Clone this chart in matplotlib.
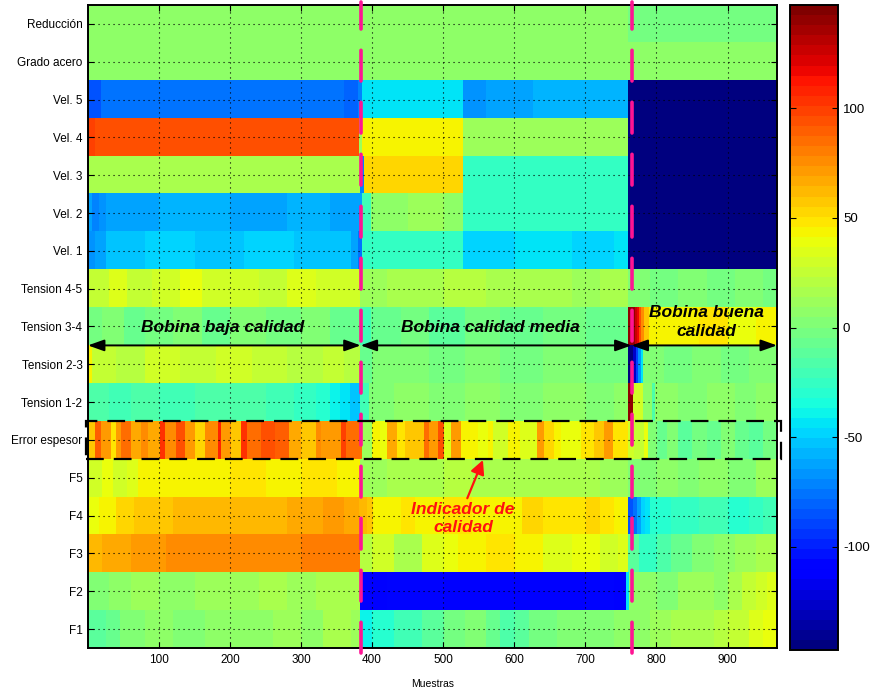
import matplotlib
matplotlib.use("Agg")
import matplotlib.pyplot as plt
import numpy as np
from matplotlib.patches import FancyArrowPatch, Rectangle

plt.rcParams['font.family'] = ['Liberation Sans', 'DejaVu Sans']
plt.rcParams['axes.unicode_minus'] = False

N = 969  # samples

row_labels = ['F1', 'F2', 'F3', 'F4', 'F5', 'Error espesor', 'Tension 1-2',
              'Tension 2-3', 'Tension 3-4', 'Tension 4-5', 'Vel. 1', 'Vel. 2',
              'Vel. 3', 'Vel. 4', 'Vel. 5', 'Grado acero', 'Reducción']

# piecewise segments per row: (start sample, value)
f1 = [(0, -10), (25, -5), (45, 2), (80, 5), (120, 3), (165, 8), (210, 6), (260, 10),
      (300, 8), (330, 14), (370, 12),
      (382, -38), (400, -30), (430, -22), (470, -10), (500, -2), (530, 0), (560, -8),
      (580, -18), (600, -12), (620, -3), (660, 0), (700, 3), (740, 5),
      (760, 8), (790, 12), (820, 16), (850, 14), (880, 22), (900, 26), (930, 34), (950, 38)]
f2 = [(0, 4), (30, 6), (60, 10), (100, 8), (150, 12), (200, 10), (240, 14), (280, 12),
      (320, 17), (360, 18),
      (382, -112), (420, -110), (500, -113), (560, -111), (640, -113), (700, -110),
      (740, -112), (757, -44),
      (761, 5), (780, 8), (800, 3), (830, 10), (860, 12), (880, 6), (900, 18), (920, 24),
      (940, 30), (955, 34)]
f3 = [(0, 62), (20, 68), (60, 72), (110, 76), (180, 74), (240, 78), (300, 80), (340, 79),
      (382, 22), (400, 28), (430, 18), (470, 34), (500, 40), (520, 42), (560, 46),
      (600, 44), (640, 36), (680, 38), (720, 30), (745, 34),
      (760, -12), (775, -26), (800, -18), (820, -6), (850, 2), (880, 6), (910, 12), (940, 16)]
f4 = [(0, 38), (15, 44), (40, 52), (65, 58), (120, 62), (200, 60), (230, 64), (280, 68),
      (330, 70), (360, 66), (381, 62), (392, 58),
      (401, 45), (440, 50), (460, 44), (500, 48), (540, 44), (610, 54), (640, 47),
      (700, 55), (720, 47), (740, 44),
      (760, -86), (766, -78), (772, -62), (778, -50), (783, -43), (790, -30), (820, -26),
      (860, -22), (900, -28), (930, -24), (950, -20)]
f5 = [(0, 32), (20, 38), (35, 30), (55, 36), (70, 42), (100, 45), (150, 44), (200, 46),
      (250, 44), (300, 46), (350, 44),
      (382, 12), (420, 16), (460, 14), (500, 20), (540, 15), (580, 18), (620, 14),
      (680, 16), (720, 12),
      (760, 4), (800, 8), (830, 2), (860, 6), (900, 4), (940, 10)]
error_esp = [(0, 58), (10, 90), (18, 70), (32, 50), (39, 70), (46, 85), (61, 65), (75, 78),
             (85, 65), (101, 105), (108, 75), (124, 92), (137, 70), (151, 52), (165, 78),
             (183, 110), (187, 70), (201, 58), (215, 105), (223, 85), (244, 95), (263, 90),
             (282, 65), (300, 58), (320, 78), (328, 70), (356, 100), (363, 85),
             (386, 12), (399, 45), (411, 40), (421, 65), (435, 47), (446, 58), (472, 85),
             (479, 70), (492, 95), (500, 35), (510, 70), (524, 45), (548, 40), (562, 45),
             (570, 30), (590, 45), (608, 35), (632, 70), (641, 52), (655, 44), (665, 37),
             (693, 47), (711, 58), (725, 70), (739, 47),
             (760, 30), (768, 24), (782, 40), (787, 0), (800, -6), (815, 4), (830, -10),
             (850, -2), (870, -8), (890, 2), (910, -6), (930, -12), (950, -4)]
tens12 = [(0, -18), (30, -22), (60, -16), (100, -20), (150, -14), (200, -18), (250, -22),
          (290, -26), (320, -32), (340, -38), (355, -44), (368, -52),
          (382, -20), (395, 2), (430, 6), (480, 0), (530, 5), (580, 2), (640, 7), (700, 3),
          (740, 6),
          (760, 138), (766, 30), (780, 8), (793, -15), (798, 6), (830, 2), (870, 8),
          (910, 3), (940, 6)]
tens23 = [(0, 44), (6, 26), (40, 22), (80, 28), (130, 24), (180, 30), (230, 26), (280, 22),
          (330, 26), (360, 20),
          (382, -8), (400, 0), (440, 4), (480, -2), (530, 2), (580, -4), (640, 0), (700, -3),
          (760, -145), (766, -125), (770, -90), (774, -65), (778, -45), (781, 0), (810, -4),
          (850, 2), (890, -2), (930, 0)]
tens34 = [(0, -4), (20, 0), (50, -8), (80, -2), (120, 2), (160, -6), (200, 0), (250, -4),
          (300, 2), (340, -6),
          (382, -20), (398, -8), (440, -4), (480, -10), (530, -4), (580, -8), (640, -2),
          (700, -6),
          (760, 138), (769, 128), (772, 118), (775, 95), (778, 75), (782, 58), (789, 45),
          (830, 42), (860, 46), (900, 40), (940, 44)]
tens45 = [(0, 26), (30, 34), (55, 24), (90, 30), (130, 38), (160, 28), (200, 32), (240, 26),
          (280, 34), (320, 28), (350, 30),
          (382, 12), (420, 18), (460, 14), (500, 20), (560, 15), (620, 18), (680, 13),
          (720, 16),
          (760, 2), (790, -4), (830, 4), (870, -2), (910, 2), (950, -2)]
vel1 = [(0, -66), (10, -60), (25, -52), (80, -50), (150, -54), (220, -50), (290, -53),
        (370, -60), (380, -75),
        (386, -24), (528, -46), (600, -44), (680, -47), (740, -45),
        (760, -147)]
vel2 = [(0, -64), (6, -70), (15, -66), (25, -60), (100, -58), (200, -60), (280, -58),
        (340, -60),
        (386, -22), (398, 8), (450, 10), (500, 6), (528, -25), (600, -23), (680, -27),
        (760, -147)]
vel3 = [(0, 16), (383, -70), (388, 55), (528, -25), (760, -147)]
vel4 = [(0, 100), (10, 92), (381, 12), (386, 43), (528, 10), (760, -147)]
vel5 = [(0, -86), (18, -78), (60, -76), (100, -78), (150, -75), (220, -78), (290, -76),
        (360, -80), (380, -70),
        (386, -42), (528, -66), (560, -64), (626, -57),
        (760, -147)]
grado = [(0, 6)]
reduccion = [(0, 6), (760, -2)]

rows = [f1, f2, f3, f4, f5, error_esp, tens12, tens23, tens34, tens45,
        vel1, vel2, vel3, vel4, vel5, grado, reduccion]

Z = np.zeros((len(rows), N))
for r, segs in enumerate(rows):
    for i, (s, v) in enumerate(segs):
        e = segs[i + 1][0] if i + 1 < len(segs) else N
        Z[r, s:e] = v

fig = plt.figure(figsize=(8.78, 6.91), dpi=100)
ax = fig.add_axes([0.1002, 0.0622, 0.7847, 0.9306])
cmap = plt.get_cmap('jet', 64)
im = ax.imshow(Z, aspect='auto', origin='lower', cmap=cmap, vmin=-147, vmax=147,
               extent=(0.5, N + 0.5, 0.5, len(rows) + 0.5), interpolation='nearest')

ax.set_xlim(0.5, N + 0.5)
ax.set_ylim(0.5, len(rows) + 0.5)
ax.set_xticks([100, 200, 300, 400, 500, 600, 700, 800, 900])
ax.set_yticks(np.arange(1, len(rows) + 1))
ax.set_yticklabels(row_labels)
ax.tick_params(direction='in', length=4, top=True, right=True, labelsize=8.5, pad=4)
ax.grid(True, color='k', linestyle=(0, (1, 3.5)), linewidth=0.8)
ax.set_axisbelow(False)
for sp in ax.spines.values():
    sp.set_linewidth(1.4)
ax.set_xlabel('Muestras', fontsize=7.5, labelpad=10)

# boundaries between coils
for xb in [384, 765]:
    ax.plot([xb, xb], [0.38, 17.58], color='#ff1493', lw=2.6,
            linestyle=(0, (8.5, 5.9)), dash_capstyle='round', clip_on=False, zorder=5)

# double arrows
for x0, x1 in [(0.5, 384), (384, 765), (765, N + 0.5)]:
    ax.add_patch(FancyArrowPatch((x0, 8.5), (x1, 8.5), arrowstyle='<|-|>,head_length=0.7,head_width=0.25',
                                 mutation_scale=14, color='k', lw=1.4, shrinkA=0, shrinkB=0,
                                 clip_on=False, zorder=6))

tkw = dict(fontsize=12.5, fontweight='bold', fontstyle='italic', ha='center', va='center', zorder=7)
ax.text(190, 8.97, 'Bobina baja calidad', **tkw)
ax.text(566, 8.97, 'Bobina calidad media', **tkw)
ax.text(870, 9.11, 'Bobina buena\ncalidad', linespacing=1.35, **tkw)
ax.text(528, 3.93, 'Indicador de\ncalidad', color='#ff1010', linespacing=1.25, **tkw)

ax.add_patch(FancyArrowPatch((534, 4.46), (556, 5.47), arrowstyle='-|>,head_length=0.6,head_width=0.3',
                             mutation_scale=14, color='#ff1010', lw=1.6, shrinkA=0, shrinkB=0, zorder=7))

ax.add_patch(Rectangle((-2.5, 5.49), 978, 1.01, fill=False, edgecolor='k', lw=1.6,
                       linestyle=(0, (8, 4.5)), clip_on=False, zorder=6))

cax = fig.add_axes([0.8998, 0.0593, 0.0547, 0.9334])
cb = fig.colorbar(im, cax=cax, ticks=[-100, -50, 0, 50, 100])
cax.tick_params(direction='in', length=4, left=True, right=True, labelsize=9.5)
cb.outline.set_linewidth(1.4)

fig.savefig('out.png', dpi=100)
